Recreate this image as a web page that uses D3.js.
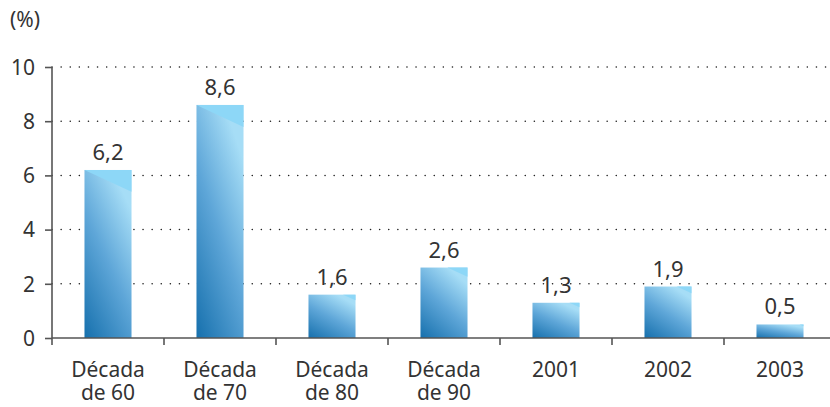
<!DOCTYPE html>
<html>
<head>
<meta charset="utf-8">
<script src="https://cdn.jsdelivr.net/npm/d3@7"></script>
<style>
  body { margin: 0; background: #fff; }
  text { font-family: "Noto Sans", "Open Sans", sans-serif; fill: #333; }
</style>
</head>
<body>
<script>
// data
var categories = [["Década", "de 60"], ["Década", "de 70"], ["Década", "de 80"], ["Década", "de 90"], ["2001"], ["2002"], ["2003"]];
var values = [6.2, 8.6, 1.6, 2.6, 1.3, 1.9, 0.5];
var valueLabels = ["6,2", "8,6", "1,6", "2,6", "1,3", "1,9", "0,5"];
var yTicks = [0, 2, 4, 6, 8, 10];

var W = 830, H = 407;
var margin = {top: 67, right: -6, bottom: 69, left: 52},
    w = W - margin.left - margin.right,
    h = H - margin.top - margin.bottom;

var svg = d3.select("body").append("svg")
    .attr("width", W)
    .attr("height", H);

var defs = svg.append("defs");
var grad = defs.append("linearGradient")
    .attr("id", "barGrad")
    .attr("x1", 0).attr("y1", 1)
    .attr("x2", 0.6).attr("y2", 0);
grad.append("stop").attr("offset", "0%").attr("stop-color", "#1670ad");
grad.append("stop").attr("offset", "55%").attr("stop-color", "#5ea6d8");
grad.append("stop").attr("offset", "100%").attr("stop-color", "#a6ddf6");

var g = svg.append("g")
    .attr("transform", "translate(" + margin.left + "," + margin.top + ")");

var x = d3.scaleBand()
    .domain(d3.range(categories.length))
    .range([0, w])
    .paddingInner(0.58)
    .paddingOuter(0.29);

var y = d3.scaleLinear()
    .domain([0, 10])
    .range([h, 0]);

// dotted grid lines
g.selectAll(".grid")
    .data(yTicks.filter(function(d) { return d > 0; }))
    .enter().append("line")
    .attr("class", "grid")
    .attr("x1", 0)
    .attr("x2", w)
    .attr("y1", function(d) { return y(d); })
    .attr("y2", function(d) { return y(d); })
    .attr("stroke", "#222")
    .attr("stroke-width", 1.5)
    .attr("stroke-linecap", "round")
    .attr("stroke-dasharray", "0.1 9");

// bars
g.selectAll(".bar")
    .data(values)
    .enter().append("rect")
    .attr("class", "bar")
    .attr("x", function(d, i) { return x(i); })
    .attr("y", function(d) { return y(d); })
    .attr("width", x.bandwidth())
    .attr("height", function(d) { return h - y(d); })
    .attr("fill", "url(#barGrad)");

// light corner highlight on top of each bar
g.selectAll(".corner")
    .data(values)
    .enter().append("polygon")
    .attr("class", "corner")
    .attr("fill", "#8dd7f7")
    .attr("points", function(d, i) {
        var x0 = x(i), x1 = x(i) + x.bandwidth(), top = y(d);
        var drop = Math.min(22, (h - top) * 0.13);
        var s = Math.max(0, x.bandwidth() - drop * 2.2);
        return [[x0 + s, top], [x1, top], [x1, top + drop]].join(" ");
    });

// value labels
g.selectAll(".vlabel")
    .data(values)
    .enter().append("text")
    .attr("class", "vlabel")
    .attr("x", function(d, i) { return x(i) + x.bandwidth() / 2; })
    .attr("y", function(d) { return y(d) - 10; })
    .attr("text-anchor", "middle")
    .style("font-size", "22px")
    .text(function(d, i) { return valueLabels[i]; });

// y axis
var yAxis = g.append("g")
    .call(d3.axisLeft(y).tickValues(yTicks).tickSize(7).tickPadding(10));
yAxis.select(".domain").attr("stroke", "#555").attr("stroke-width", 1.6).attr("d", "M0," + y(10) + "V" + h);
yAxis.selectAll(".tick line").attr("stroke", "#555").attr("stroke-width", 1.6);
yAxis.selectAll(".tick text").style("font-size", "21px").attr("fill", "#333").attr("dy", "0.35em");

// x axis baseline and separators
g.append("line")
    .attr("x1", 0).attr("x2", w)
    .attr("y1", h).attr("y2", h)
    .attr("stroke", "#555").attr("stroke-width", 1.6);

g.selectAll(".sep")
    .data(d3.range(categories.length))
    .enter().append("line")
    .attr("class", "sep")
    .attr("x1", function(i) { return x(i) - x.step() * x.paddingInner() / 2; })
    .attr("x2", function(i) { return x(i) - x.step() * x.paddingInner() / 2; })
    .attr("y1", h)
    .attr("y2", h + 7)
    .attr("stroke", "#555").attr("stroke-width", 1.6);

// category labels
var cl = g.selectAll(".clabel")
    .data(categories)
    .enter().append("text")
    .attr("class", "clabel")
    .attr("text-anchor", "middle")
    .style("font-size", "21px")
    .attr("transform", function(d, i) {
        return "translate(" + (x(i) + x.bandwidth() / 2) + "," + (h + 39) + ")";
    });
cl.selectAll("tspan")
    .data(function(d) { return d; })
    .enter().append("tspan")
    .attr("x", 0)
    .attr("dy", function(d, i) { return i === 0 ? 0 : 23; })
    .text(function(d) { return d; });

// unit label
svg.append("text")
    .attr("x", 10)
    .attr("y", 27)
    .style("font-size", "21px")
    .text("(%)");
</script>
</body>
</html>
